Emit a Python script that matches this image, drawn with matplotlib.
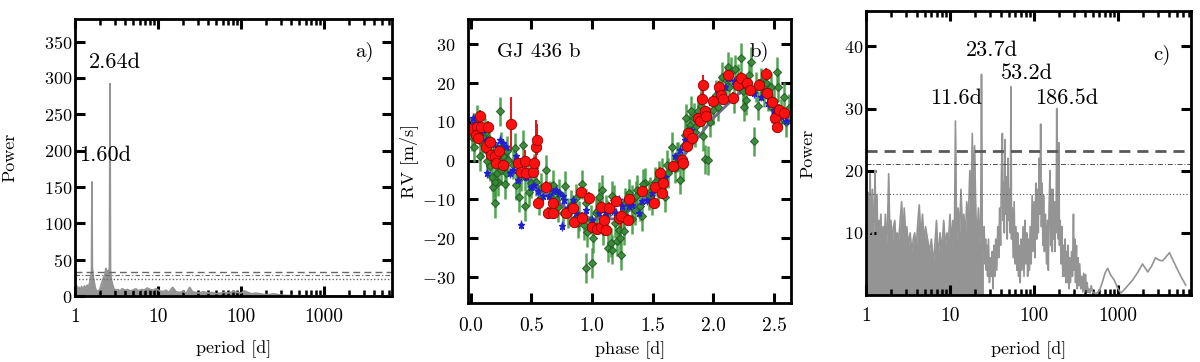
import matplotlib
matplotlib.use("Agg")
import matplotlib.pyplot as plt
from matplotlib.ticker import LogLocator, NullFormatter, FixedLocator

plt.rcParams['font.family'] = ['cmr10', 'DejaVu Serif']
plt.rcParams['mathtext.fontset'] = 'cm'
plt.rcParams['axes.formatter.use_mathtext'] = True

# ---------------- Panel a: periodogram of the raw RVs ----------------
per_a = [1.0, 1.05, 1.08, 1.12, 1.15, 1.2, 1.25, 1.3, 1.35, 1.4, 1.45, 1.5, 1.53, 1.56, 1.58,
         1.60, 1.62, 1.65, 1.7, 1.75, 1.8, 1.9, 2.0, 2.1, 2.2, 2.3, 2.35, 2.4, 2.45, 2.5, 2.55,
         2.6, 2.64, 2.68, 2.75, 2.85, 2.95, 3.1, 3.3, 3.5, 3.7, 4.0, 4.3, 4.6, 5.0, 5.4, 5.8,
         6.3, 6.8, 7.4, 8.0, 8.7, 9.5, 10.5, 11.5, 12.5, 13.5, 15, 16.5, 18, 20, 22, 24, 26,
         28, 31, 35, 40, 45, 50, 56, 63, 70, 80, 90, 100, 110, 120, 135, 150, 170, 190, 220,
         250, 290, 340, 400, 500, 600, 800, 1000, 1500, 2000, 3000, 4000, 5500, 7000]
pow_a = [0, 14, 6, 12, 8, 13, 9, 14, 10, 15, 12, 18, 25, 30, 35,
         157, 40, 28, 20, 12, 8, 6, 10, 18, 25, 30, 38, 28, 32, 35, 30,
         40, 292, 35, 22, 15, 10, 8, 9, 7, 10, 8, 9, 7, 8, 10, 7,
         9, 8, 11, 9, 8, 10, 7, 6, 8, 5, 12, 6, 5, 6, 4, 12, 6,
         5, 4, 6, 4, 5, 3, 4, 5, 4, 6, 5, 4, 7, 5, 3, 4, 3, 2, 2,
         3, 1.5, 1, 0.5, 0.5, 0.3, 0.3, 0.3, 0.2, 0.3, 0.2, 0.3, 0.2, 0.2]
fap_a = [33.4, 28.5, 23.0]          # 0.1%, 1%, 10% FAP levels
peaks_a = ["2.64d", "1.60d"]

# ---------------- Panel b: phase-folded RVs of GJ 436 b ----------------
red_phase = [0.01, 0.076, 0.054, 0.044, 0.063, 0.084, 0.125, 0.144, 0.16, 0.17, 0.2, 0.21,
             0.234, 0.267, 0.33, 0.39, 0.417, 0.444, 0.457, 0.51, 0.523, 0.54, 0.545, 0.553,
             0.62, 0.635, 0.675, 0.68, 0.784, 0.84, 0.85, 0.91, 0.92, 0.975, 1.0, 1.04, 1.07,
             1.097, 1.117, 1.07, 1.14, 1.2, 1.22, 1.24, 1.3, 1.307, 1.41, 1.51, 1.52, 1.56,
             1.574, 1.588, 1.67, 1.74, 1.75, 1.78, 1.79, 1.82, 1.874, 1.888, 1.906, 1.915,
             1.93, 1.94, 2.0, 2.05, 2.064, 2.08, 2.12, 2.16, 2.2, 2.23, 2.28, 2.3, 2.38, 2.43,
             2.445, 2.486, 2.51, 2.526, 2.54, 2.58]
red_rv = [8.1, 11.6, 8.8, 6.7, 5.8, 8.8, 3.6, 8.8, 4.9, 1.5, 1.1, -0.6,
          2.4, -1.1, 9.5, -0.6, -2.8, -0.2, -3.2, -2.8, -0.6, 3.6, 5.4, -10.8,
          -6.7, -13.5, -13.5, -10.9, -13.5, -12.2, -15.7, -8.2, -14.8, -9.7, -17.0, -17.6, -17.0,
          -15.2, -17.8, -12.0, -12.2, -10.5, -14.8, -14.2, -15.2, -9.9, -7.7, -10.9, -6.8, -3.2,
          -8.4, -5.8, -1.5, 0.2, -0.5, 3.8, 7.1, 5.8, 10.9, 10.3, 15.8, 19.5,
          12.7, 11.4, 15.5, 18.9, 17.0, 15.8, 22.1, 16.1, 19.5, 21.3, 20.0, 18.1, 19.5, 22.4,
          17.4, 15.2, 10.9, 8.8, 13.1, 12.4]
red_err = [1.5, 1.5, 1.5, 1.5, 1.5, 1.5, 1.5, 1.5, 1.5, 1.5, 1.5, 1.5,
           1.5, 1.5, 7.0, 1.5, 2.0, 3.0, 1.5, 1.5, 1.5, 7.0, 4.0, 1.5,
           1.5, 1.5, 1.5, 1.5, 1.5, 1.5, 1.5, 1.5, 1.5, 1.5, 1.5, 1.5, 1.5,
           1.5, 1.5, 1.5, 1.5, 1.5, 1.5, 4.0, 1.5, 1.5, 1.5, 1.5, 1.5, 1.5,
           1.5, 1.5, 1.5, 1.5, 1.5, 1.5, 1.5, 1.5, 1.5, 1.5, 1.5, 2.5,
           1.5, 1.5, 1.5, 1.5, 1.5, 1.5, 1.5, 1.5, 1.5, 1.5, 1.5, 1.5, 1.5, 1.5,
           1.5, 1.5, 1.5, 1.5, 1.5, 1.5]

green_phase = [0.008, 0.027, 0.049, 0.076, 0.09, 0.117, 0.136, 0.158, 0.172, 0.185, 0.199,
               0.213, 0.226, 0.24, 0.253, 0.267, 0.289, 0.308, 0.362, 0.376, 0.398, 0.417,
               0.431, 0.444, 0.471, 0.498, 0.539, 0.566, 0.62, 0.675, 0.702, 0.73, 0.757,
               0.798, 0.825, 0.866, 0.893, 0.915, 0.934, 0.948, 0.962, 0.989, 1.002, 1.029,
               1.057, 1.084, 1.111, 1.133, 1.152, 1.166, 1.18, 1.207, 1.22, 1.234, 1.242,
               1.253, 1.275, 1.302, 1.329, 1.351, 1.37, 1.397, 1.411, 1.438, 1.465, 1.493,
               1.52, 1.547, 1.574, 1.601, 1.629, 1.656, 1.683, 1.71, 1.724, 1.751, 1.765,
               1.778, 1.806, 1.819, 1.846, 1.874, 1.901, 1.915, 1.928, 1.956, 1.996, 2.037,
               2.051, 2.105, 2.119, 2.146, 2.173, 2.2, 2.228, 2.255, 2.269, 2.309, 2.337,
               2.364, 2.391, 2.418, 2.446, 2.473, 2.5, 2.527, 2.555, 2.582,
               0.03, 0.06, 0.1, 0.13, 0.15, 0.18, 0.2, 0.22, 0.25, 0.28, 0.3, 0.35, 0.45,
               0.48, 0.52, 0.58, 0.65, 0.72, 0.78, 0.88, 0.95, 1.01, 1.04, 1.09, 1.12, 1.16,
               1.19, 1.26, 1.29, 1.33, 1.36, 1.42, 1.48, 1.55, 1.62, 1.7, 1.76, 1.8, 1.84,
               1.86, 1.9, 1.97, 2.02, 2.07, 2.13, 2.18, 2.24, 2.29, 2.35, 2.43, 2.48, 2.53,
               2.6, 2.62]
green_rv = [6.2, 8.4, 10.6, 1.1, 4.5, 7.1, 2.4, -1.5, -4.1, -6.7, -11.0, -3.2,
            -5.4, 12.7, 3.6, 1.1, -3.2, 0.2, 3.2, -6.3, -9.3, -4.1, 4.1, -11.8,
            -3.2, -5.8, -5.4, -10.1, -2.4, -6.3, -10.1, -8.4, -13.5, -13.5, -11.4, -9.7,
            -14.2, -6.1, -16.7, -27.7, -18.5, -15.2, -26.4, -13.5, -9.3, -7.6, -12.7,
            -22.4, -21.1, -22.9, -10.1, -20.8, -17.8, -20.0, -24.3, -13.5, -10.9, -8.4,
            -10.1, -12.7, -7.6, -11.8, -14.2, -5.8, -8.8, -10.1, -5.4, -6.7, -3.2, -9.3,
            -3.2, 3.6, -1.9, 1.1, -4.9, -1.5, 6.7, 10.9, 9.1, 12.9, 7.3, 12.9, 15.9,
            6.3, 0.3, 0.1, 13.1, 13.9, 18.2, 20.7, 24.1, 22.9, 16.1, 21.2, 26.4, 13.9,
            15.6, 25.5, 5.0, 14.2, 20.2, 17.6, 16.7, 18.9, 15.4, 22.9, 12.2, 16.5,
            3.5, 9.0, 6.0, 0.0, 5.5, 2.0, -5.5, 1.0, -2.5, -6.0, 2.5, -1.0, -4.0,
            -8.0, -2.0, -7.0, -9.0, -12.0, -6.5, -16.0, -11.0, -20.0, -13.0, -18.0, -14.0, -9.0,
            -16.0, -18.0, -12.0, -15.0, -9.0, -6.0, -8.0, -4.0, -1.0, 1.0, 4.0, 8.0, 11.0,
            9.0, 14.0, 10.0, 17.0, 21.5, 19.0, 23.5, 18.0, 22.0, 19.0, 20.0, 13.5, 19.0,
            10.0, 13.5]
green_err = 3.8

blue_phase = [0.016, 0.035, 0.054, 0.076, 0.103, 0.125, 0.136, 0.158, 0.185, 0.213,
              0.24, 0.267, 0.294, 0.322, 0.349, 0.376, 0.39, 0.417, 0.458, 0.498,
              0.525, 0.553, 0.593, 0.648, 0.675, 0.702, 0.73, 0.757, 0.77, 0.75,
              0.798, 0.839, 0.866, 0.948, 1.002, 1.057, 1.111, 1.166, 1.193, 1.22,
              1.247, 1.302, 1.329, 1.383, 1.411, 1.452, 1.493, 1.547, 1.601, 1.656,
              1.683, 1.724, 1.765, 1.819, 1.874, 1.928, 1.983, 2.037, 2.092, 2.119,
              2.173, 2.228, 2.282, 2.337, 2.391, 2.446, 2.5, 2.555, 2.596]
blue_rv = [11.0, 9.7, 7.6, 6.3, 8.0, 5.4, -3.2, 4.5, 4.5, 3.6, 5.4, 4.5, 3.6,
           -3.2, -2.4, 1.1, -4.9, -16.5, -4.1, -6.7, -6.3, -7.9, -9.2, -9.2, -7.9,
           -7.5, -8.4, -9.2, -10.1, -16.8, -12.2, -10.1, -13.5, -12.7, -15.2, -13.5,
           -13.5, -12.7, -13.5, -10.1, -11.8, -11.8, -11.4, -13.5, -10.5, -10.1, -8.4,
           -6.7, -4.1, -1.5, 1.1, 2.8, 5.4, 8.0, 10.1, 12.2, 15.2, 17.7, 19.1, 21.2,
           20.4, 19.5, 18.7, 17.4, 16.5, 14.8, 13.1, 11.4, 10.1]
blue_err = 1.2

model_phase = [0.0, 0.2, 0.4, 0.6, 0.8, 1.0, 1.2, 1.4, 1.6, 1.8, 2.0, 2.2, 2.3, 2.4, 2.5, 2.64]
model_rv = [10.5, 4.0, -2.0, -8.0, -12.5, -15.0, -15.0, -11.0, -5.0, 3.0, 11.0, 17.0, 19.0,
            18.5, 15.0, 10.0]

# ---------------- Panel c: periodogram of residuals ----------------
per_c = [1.00, 1.02, 1.04, 1.06, 1.08, 1.10, 1.12, 1.14, 1.16, 1.19, 1.22, 1.25, 1.28, 1.31,
         1.35, 1.38, 1.42, 1.46, 1.50, 1.55, 1.60, 1.65, 1.70, 1.75, 1.80, 1.86, 1.92, 1.98,
         2.05, 2.12, 2.20, 2.28, 2.35, 2.45, 2.55, 2.65, 2.75, 2.85, 2.95, 3.05, 3.2, 3.35,
         3.5, 3.65, 3.8, 3.95, 4.1, 4.3, 4.5, 4.7, 4.9, 5.1, 5.4, 5.7, 6.0, 6.3, 6.6, 6.9,
         7.2, 7.6, 8.0, 8.4, 8.8, 9.2, 9.6, 10.0, 10.4, 10.8, 11.2, 11.6, 12.0, 12.5, 13.0,
         13.5, 14.0, 14.6, 15.2, 15.8, 16.5, 17.2, 17.8, 18.4, 19.0, 19.6, 20.3, 21.0, 21.8,
         22.6, 23.2, 23.7, 24.2,
         25.0, 25.5, 26, 26.5, 27, 27.5, 28, 28.7, 29.5, 30.2, 31, 31.8, 32.5, 33.3, 34, 35,
         36, 37, 38, 39, 40, 41, 42, 42.8, 43.5, 44.3, 45, 46, 47, 48, 49, 50, 51, 52, 53.2,
         54, 55, 56.5, 58, 59.5, 61, 62.5, 64, 65.5, 67, 68.5, 70, 72, 74, 76, 78, 80, 82,
         84, 86, 88, 90, 92.5, 95, 97.5, 100, 102.5, 105, 107.5, 110, 112.5, 115, 117.5,
         120, 122.5, 125, 127.5, 130, 133, 137, 141, 145, 148, 151, 155, 158, 162, 165,
         168, 172, 175, 178, 180, 183, 186.5, 189, 192, 195, 198, 201, 205, 210, 215, 220,
         225, 230, 235, 240, 245, 250, 255, 260, 265, 272, 280, 287, 295, 300, 305, 312,
         320, 327, 335, 342, 350, 360, 370, 380, 390, 400, 410, 420, 430, 440, 450, 465,
         480, 500, 520,
         560, 600, 650, 700, 753, 820, 903, 1000, 1086, 1250, 1493, 1750, 1960,
         2260, 2500, 2800, 3100, 3400, 4100, 4900, 5600, 6400]
pow_c = [0.5, 14, 8, 16.5, 9, 12, 19.5, 10, 13, 17, 9, 12, 20, 11,
         16, 9, 12, 10, 13, 8, 11, 9, 13, 8, 11, 19.5, 10, 12,
         8, 11, 12, 8, 10, 9, 12, 15, 9, 14, 10, 11, 8, 10,
         7, 9, 10, 7, 11, 14.5, 9, 13, 8, 11, 9, 7, 9, 5, 8, 12,
         6, 10, 7, 12, 8, 10, 9, 13, 8, 12, 6, 28, 9, 14, 10,
         17, 11, 13, 9, 15, 12, 20, 14, 26, 16, 24, 13, 9, 14,
         8, 12, 35.5, 10,
         7, 11, 5, 9, 4, 8, 3, 9, 2, 6, 3, 7, 1, 8, 3, 9,
         4, 11, 6, 14, 8, 20, 26, 12, 18, 10, 25, 13, 19, 9, 22, 12, 17, 10, 33.5,
         9, 14, 6, 15, 5, 11, 4, 10, 3, 8, 2, 9, 4, 11, 3, 12, 5, 10,
         3, 9, 4, 11, 5, 16, 7, 15, 6, 18, 9, 17, 10, 22, 13,
         27.5, 11, 18, 8, 16, 7, 13, 5, 12, 4, 14, 20, 8, 17, 7,
         17, 9, 15, 7, 14, 10, 30, 11, 16, 9, 24.5, 8, 12, 5, 11, 3,
         8, 3, 9, 2, 7, 2, 8, 1, 6, 2, 7, 3, 13, 4, 9, 2,
         8, 1, 6, 1.5, 5, 1, 3, 0.5, 3.5, 0.5, 3.3, 1, 2, 0.4, 1, 0.3,
         1.5, 0.4, 0.3,
         0.3, 0.7, 2.0, 3.5, 4.3, 3.2, 2.4, 1.0, 0.3, 1.2, 2.4, 3.8, 5.0,
         3.7, 4.6, 6.0, 5.6, 5.5, 6.8, 4.6, 3.0, 1.6]
fap_c = [23.1, 21.0, 16.2]
peaks_c = ["23.7d", "53.2d", "11.6d", "186.5d"]

# ---------------- Figure ----------------
fig = plt.figure(figsize=(12, 3.62), dpi=100)
axa = fig.add_axes([0.0625, 0.1823, 0.2642, 0.7652])
axb = fig.add_axes([0.3903, 0.1638, 0.2689, 0.7837])
axc = fig.add_axes([0.7217, 0.1851, 0.2708, 0.7845])

grey = '0.58'

def style(ax, logx=False):
    for s in ax.spines.values():
        s.set_linewidth(2.0)
    ax.tick_params(which='major', direction='in', top=True, right=True,
                   length=7, width=2.2, labelsize=14)
    ax.tick_params(which='minor', direction='in', top=True, right=True,
                   length=4.5, width=1.8)
    if logx:
        ax.set_xscale('log')
        ax.xaxis.set_major_locator(FixedLocator([1, 10, 100, 1000]))
        ax.set_xticklabels(['1', '10', '100', '1000'])
        ax.xaxis.set_minor_locator(LogLocator(base=10, subs=range(2, 10), numticks=20))
        ax.xaxis.set_minor_formatter(NullFormatter())

# Panel a
style(axa, logx=True)
axa.fill_between(per_a, 0, pow_a, color=grey, lw=0)
axa.plot(per_a, pow_a, color=grey, lw=1.2)
axa.axhline(fap_a[0], color='0.4', lw=1.0, ls=(0, (5, 3)))
axa.axhline(fap_a[1], color='0.4', lw=0.8, ls=(0, (4, 2, 1, 2)))
axa.axhline(fap_a[2], color='0.4', lw=1.0, ls=(0, (1, 1.5)))
axa.set_xlim(1, 6600)
axa.set_ylim(0, 381)
axa.set_yticks(range(0, 351, 50))
axa.tick_params(axis='y', labelsize=13, pad=2)
axa.tick_params(axis='x', pad=9)
axa.text(3.05, 322, peaks_a[0], fontsize=16, ha='center', va='center')
axa.text(2.31, 194, peaks_a[1], fontsize=16, ha='center', va='center')
axa.text(3070, 336, 'a)', fontsize=15, ha='center', va='center')
axa.set_xlabel('period [d]', fontsize=13)
axa.set_ylabel('Power', fontsize=13)
axa.xaxis.set_label_coords(0.5, -0.161)
axa.yaxis.set_label_coords(-0.183, 0.5)

# Panel b
style(axb)
axb.errorbar(green_phase, green_rv, yerr=green_err, fmt='D', ms=4.5, color='#358a35',
             mec='#245a24', mew=0.8, ecolor='#3f9a3f', elinewidth=1.8, capsize=0, alpha=0.9)
axb.errorbar(blue_phase, blue_rv, yerr=blue_err, fmt='*', ms=5, color='#2020d0',
             mec='#2020d0', ecolor='#3030e0', elinewidth=1.0, capsize=0)
axb.plot(model_phase, model_rv, color='#6a6a88', lw=2.0)
axb.errorbar(red_phase, red_rv, yerr=red_err, fmt='o', ms=7.5, color='#ff1010',
             mec='#900000', mew=0.6, ecolor='#ee1010', elinewidth=1.4, capsize=0)
axb.set_xlim(-0.02, 2.64)
axb.set_ylim(-36.6, 36.5)
axb.set_xticks([0.0, 0.5, 1.0, 1.5, 2.0, 2.5])
axb.set_xticklabels(['0.0', '0.5', '1.0', '1.5', '2.0', '2.5'])
axb.set_yticks([-30, -20, -10, 0, 10, 20, 30])
axb.tick_params(axis='y', labelsize=13, pad=9)
axb.tick_params(axis='x', pad=10)
axb.text(0.215, 28, 'GJ 436 b', fontsize=15, ha='left', va='center')
axb.text(2.38, 28, 'b)', fontsize=15, ha='center', va='center')
axb.set_xlabel('phase [d]', fontsize=13)
axb.set_ylabel('RV [m/s]', fontsize=13)
axb.xaxis.set_label_coords(0.5, -0.137)
axb.yaxis.set_label_coords(-0.155, 0.5)

# Panel c
style(axc, logx=True)
split = per_c.index(25.0)
axc.fill_between(per_c[:split + 1], 0, pow_c[:split + 1], color=grey, lw=0)
axc.plot(per_c, pow_c, color=grey, lw=1.2)
axc.axhline(fap_c[0], color='0.35', lw=2.0, ls=(0, (4, 2.5)))
axc.axhline(fap_c[1], color='0.3', lw=0.7, ls=(0, (5, 2, 1, 2)))
axc.axhline(fap_c[2], color='0.3', lw=0.8, ls=(0, (1, 2)))
axc.set_xlim(1, 7400)
axc.set_ylim(0, 45.7)
axc.set_yticks([10, 20, 30, 40])
axc.tick_params(axis='y', labelsize=13, pad=2)
axc.tick_params(axis='x', pad=9)
axc.text(31.3, 39.4, peaks_c[0], fontsize=16, ha='center', va='center')
axc.text(81.8, 35.7, peaks_c[1], fontsize=16, ha='center', va='center')
axc.text(11.9, 31.7, peaks_c[2], fontsize=16, ha='center', va='center')
axc.text(245, 31.7, peaks_c[3], fontsize=16, ha='center', va='center')
axc.text(3330, 38.6, 'c)', fontsize=15, ha='center', va='center')
axc.set_xlabel('period [d]', fontsize=13)
axc.set_ylabel('Power', fontsize=13)
axc.xaxis.set_label_coords(0.5, -0.164)
axc.yaxis.set_label_coords(-0.157, 0.5)

fig.savefig('out.png', dpi=100)
